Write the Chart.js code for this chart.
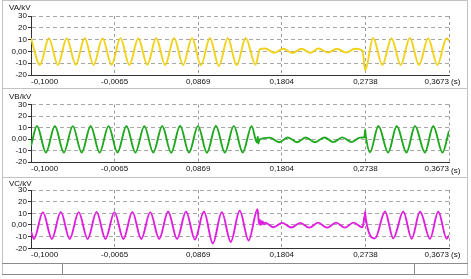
<!DOCTYPE html>
<html>
<head>
<meta charset="utf-8">
<script src="https://cdn.jsdelivr.net/npm/chart.js@4.4.0/dist/chart.umd.min.js"></script>
<style>
body { margin: 0; background: #fff; font-family: "Liberation Sans", Arial, sans-serif; }
.line { position: absolute; background: #c2c2c2; }
.dark { background: #8c8c8c; }
canvas { position: absolute; left: 0; }
.ylab { position: absolute; left: 9px; font-size: 8px; color: #111; line-height: 9px; }
.unit { position: absolute; left: 451px; font-size: 8px; color: #111; line-height: 9px; }
</style>
</head>
<body>
<!-- frame lines -->
<div class="line" style="left:2px;top:0;width:466px;height:1px"></div>
<div class="line" style="left:2px;top:0;width:1px;height:275px"></div>
<div class="line" style="left:467px;top:0;width:1px;height:275px"></div>
<div class="line" style="left:2px;top:88px;width:466px;height:1px"></div>
<div class="line" style="left:2px;top:177px;width:466px;height:1px"></div>
<div class="line dark" style="left:2px;top:263px;width:466px;height:1px"></div>
<div class="line dark" style="left:2px;top:274px;width:466px;height:1px"></div>
<div class="line dark" style="left:62px;top:263px;width:1px;height:11px"></div>
<div class="line dark" style="left:414px;top:263px;width:1px;height:11px"></div>

<canvas id="chartA" width="471" height="88" style="top:0"></canvas>
<canvas id="chartB" width="471" height="89" style="top:88px"></canvas>
<canvas id="chartC" width="471" height="86" style="top:177px"></canvas>

<div class="ylab" style="top:3px">VA/kV</div>
<div class="ylab" style="top:92px">VB/kV</div>
<div class="ylab" style="top:179px">VC/kV</div>
<div class="unit" style="top:77px">(s)</div>
<div class="unit" style="top:166px">(s)</div>
<div class="unit" style="top:250px">(s)</div>

<script>
const xTickValues = [-0.1, -0.0065, 0.0869, 0.1804, 0.2738, 0.3673];
const xTickLabels = ['-0,1000', '-0,0065', '0,0869', '0,1804', '0,2738', '0,3673'];
const yTickLabels = ['-20', '-10', '0,00', '10', '20', '30'];

// VA: extremes of the wave, then the fault dip and recovery
const vaTime = [-0.1, -0.09, -0.08, -0.07, -0.06, -0.05, -0.04, -0.03, -0.02, -0.01,
    0, 0.01, 0.02, 0.03, 0.04, 0.05, 0.06, 0.07, 0.08, 0.09, 0.1, 0.11, 0.12, 0.13, 0.14, 0.151,
    0.156, 0.1617, 0.172, 0.182, 0.192, 0.2026, 0.212, 0.2215, 0.232, 0.242, 0.252, 0.2622, 0.2705,
    0.2736, 0.2825, 0.2928, 0.303, 0.3133, 0.3235, 0.3338, 0.344, 0.3543, 0.3645, 0.3673];
const vaKv = [11.2, -11.4, 11.2, -11.5, 11.2, -11.4, 11.3, -11.5, 11.2, -11.4,
    11.3, -11.5, 11.2, -11.4, 11.3, -11.5, 11.4, -11.6, 11.3, -11.8, 11.4, -12.4, 11.3, -11.8, 11.4, -11.2,
    2.0, 2.5, -1.2, 2.3, -1.3, 2.2, -1.2, 2.4, -1.0, 2.3, -1.0, 2.2, 0.8,
    -16, 11.3, -11.5, 11.2, -11.5, 11.3, -11.5, 11.2, -11.5, 11.2, 9];

const vbTime = [-0.1, -0.0933, -0.0833, -0.0733, -0.0633, -0.0533, -0.0433, -0.0333, -0.0233, -0.0133,
    -0.0033, 0.0067, 0.0167, 0.0267, 0.0367, 0.0467, 0.0567, 0.0667, 0.0767, 0.0867, 0.0967, 0.1067,
    0.1167, 0.1267, 0.1367, 0.1467, 0.1525, 0.1535, 0.1542, 0.1555, 0.167, 0.1775, 0.187, 0.1975,
    0.207, 0.2175, 0.228, 0.238, 0.248, 0.2585, 0.268, 0.2728, 0.2735, 0.2742, 0.279, 0.2884,
    0.2993, 0.3089, 0.3198, 0.3293, 0.3404, 0.3497, 0.36, 0.3673];
const vbKv = [-6, 11.3, -11.8, 11.3, -11.8, 11.2, -11.8, 11.3, -11.8, 11.2,
    -11.8, 11.3, -11.8, 11.2, -11.8, 11.3, -11.9, 11.5, -11.8, 11.4, -11.9, 11.5,
    -11.8, 11.4, -11.7, 11.2, -3, 2, -4, -0.5, 1.2, -2.8, 1.3, -2.8,
    1.3, -2.8, 1.3, -2.7, 1.4, -2.7, 1.2, 1.5, 8, 3, -11.5, 11.3,
    -11.8, 11.3, -11.8, 11.3, -11.8, 11.3, -11.8, 7];

const vcTime = [-0.1, -0.0967, -0.0867, -0.0767, -0.0667, -0.0567, -0.0467, -0.0367, -0.0267, -0.0167,
    -0.0067, 0.0033, 0.0133, 0.0233, 0.0333, 0.0433, 0.0533, 0.0633, 0.0733, 0.0833, 0.0933, 0.1033,
    0.1133, 0.1233, 0.1333, 0.1433, 0.1533, 0.1545, 0.155, 0.1557, 0.1565, 0.1573, 0.158, 0.159,
    0.1605, 0.162, 0.171, 0.181, 0.191, 0.201, 0.211, 0.221, 0.231, 0.241, 0.251, 0.2605, 0.2705,
    0.272, 0.2726, 0.273, 0.2735, 0.274, 0.2846, 0.2958, 0.305, 0.3162, 0.3256, 0.3349, 0.3461,
    0.3553, 0.3647, 0.3673];
const vcKv = [-5.5, -12, 11, -12, 11.2, -12, 11, -12, 11.2, -12,
    11, -12, 11.2, -12, 11, -12, 11.5, -12, 11.5, -12.5, 11.5, -15.8,
    11, -14.5, 12.3, -13.3, 13.5, 4, 1, 4.5, 0, 3.5, 0.5, 3,
    0.5, 2, -2, 1.8, -2.2, 1.8, -2.3, 2, -2.3, 2, -2.3, 2, -2,
    3, 7, 5, 11.5, 7, -11.5, 11.5, -11.5, 11.5, -11.8, 11.5, -11.8,
    11.5, -11.8, -9];

Chart.defaults.font.family = '"Liberation Sans", Arial, sans-serif';
Chart.defaults.font.size = 8;
Chart.defaults.color = '#111';

function makePanel(id, time, values, color, areaTop, areaBottom) {
    const canvas = document.getElementById(id);
    const h = canvas.height;
    return new Chart(canvas, {
        type: 'line',
        data: {
            datasets: [{
                data: time.map((t, i) => ({ x: t, y: values[i] })),
                borderColor: color,
                borderWidth: 1.9,
                pointRadius: 0,
                fill: false,
                cubicInterpolationMode: 'monotone'
            }]
        },
        options: {
            responsive: false,
            animation: false,
            layout: { padding: { top: areaTop, right: 22, left: 0, bottom: 0 } },
            plugins: { legend: { display: false }, tooltip: { enabled: false } },
            scales: {
                x: {
                    type: 'linear',
                    min: -0.1,
                    max: 0.3673,
                    afterBuildTicks: axis => { axis.ticks = xTickValues.map(v => ({ value: v })); },
                    afterFit: axis => { axis.height = h - areaBottom; },
                    ticks: {
                        autoSkip: false,
                        maxRotation: 0,
                        align: 'inner',
                        padding: 2,
                        callback: (v, i) => xTickLabels[i]
                    },
                    grid: { color: '#999', drawTicks: false },
                    border: { color: '#333', width: 1, dash: [3, 3] }
                },
                y: {
                    min: -20,
                    max: 30,
                    afterFit: axis => { axis.width = 31; },
                    ticks: {
                        stepSize: 10,
                        autoSkip: false,
                        padding: 1,
                        callback: (v, i) => yTickLabels[i]
                    },
                    grid: { color: '#a8a8a8', tickLength: 3, tickColor: '#333', tickBorderDash: [] },
                    border: { color: '#333', width: 1, dash: [4, 3] }
                }
            }
        }
    });
}

makePanel('chartA', vaTime, vaKv, '#f2d21a', 16, 75);
makePanel('chartB', vbTime, vbKv, '#1ea81e', 16.5, 74);
makePanel('chartC', vcTime, vcKv, '#e01ee0', 13, 71.3);
</script>
</body>
</html>
